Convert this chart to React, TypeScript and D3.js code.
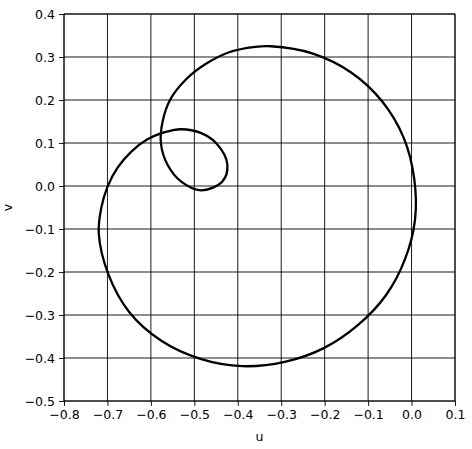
import React, { useEffect, useRef } from 'react';
import * as d3 from 'd3';

// curve: starts at the self-crossing, runs round the
// small loop, then up and clockwise round the big loop back to the crossing
const uValues = [
  -0.576, -0.553, -0.53, -0.487, -0.449, -0.424, -0.436, -0.485, -0.53, -0.562,
  -0.577, -0.573, -0.556, -0.52, -0.475, -0.42, -0.36, -0.324, -0.227, -0.139,
  -0.067, -0.018, 0.006, 0.008, -0.015, -0.059, -0.123, -0.202, -0.292, -0.389,
  -0.486, -0.576, -0.65, -0.698, -0.72, -0.714, -0.7, -0.677, -0.645, -0.609,
];
const vValues = [
  0.123, 0.129, 0.132, 0.124, 0.099, 0.05, 0.01, -0.01, 0.01, 0.05,
  0.1, 0.15, 0.2, 0.247, 0.283, 0.311, 0.3235, 0.325, 0.308, 0.264,
  0.196, 0.112, 0.018, -0.078, -0.17, -0.254, -0.323, -0.377, -0.409, -0.419,
  -0.402, -0.36, -0.293, -0.205, -0.11, -0.05, -0.002, 0.042, 0.08, 0.108,
];

const xTicks = [-0.8, -0.7, -0.6, -0.5, -0.4, -0.3, -0.2, -0.1, 0.0, 0.1];
const yTicks = [-0.5, -0.4, -0.3, -0.2, -0.1, 0.0, 0.1, 0.2, 0.3, 0.4];

const App = () => {
  const svgRef = useRef<SVGSVGElement | null>(null);

  useEffect(() => {
    if (!svgRef.current) return;
    const svg = d3.select(svgRef.current);
    svg.selectAll('*').remove();

    const width = 472;
    const height = 449;
    const margin = { top: 14, right: 17, bottom: 48, left: 64 };

    const x = d3.scaleLinear()
      .domain([-0.8, 0.1])
      .range([margin.left, width - margin.right]);
    const y = d3.scaleLinear()
      .domain([-0.5, 0.4])
      .range([height - margin.bottom, margin.top]);

    svg.append('rect')
      .attr('width', width)
      .attr('height', height)
      .attr('fill', '#fff');

    // grid
    const grid = svg.append('g').attr('stroke', '#000').attr('stroke-width', 0.9);
    grid.selectAll('line.gx')
      .data(xTicks)
      .enter()
      .append('line')
      .attr('x1', d => x(d))
      .attr('x2', d => x(d))
      .attr('y1', y(-0.5))
      .attr('y2', y(0.4));
    grid.selectAll('line.gy')
      .data(yTicks)
      .enter()
      .append('line')
      .attr('y1', d => y(d))
      .attr('y2', d => y(d))
      .attr('x1', x(-0.8))
      .attr('x2', x(0.1));

    const fmt = d3.format('.1f');
    const font = 'DejaVu Sans, sans-serif';
    const fontSize = '12.5px';

    const xAxis = svg.append('g')
      .attr('transform', `translate(0,${y(-0.5)})`)
      .call(d3.axisBottom(x).tickValues(xTicks).tickFormat(d => fmt(d as number)).tickSize(5).tickPadding(4));
    const yAxis = svg.append('g')
      .attr('transform', `translate(${x(-0.8)},0)`)
      .call(d3.axisLeft(y).tickValues(yTicks).tickFormat(d => fmt(d as number)).tickSize(5).tickPadding(4));

    [xAxis, yAxis].forEach(a => {
      a.select('.domain').remove();
      a.selectAll('line').attr('stroke', '#000').attr('stroke-width', 0.9);
      a.selectAll('text')
        .attr('fill', '#000')
        .style('font-family', font)
        .style('font-size', fontSize);
    });

    // frame
    svg.append('rect')
      .attr('x', x(-0.8))
      .attr('y', y(0.4))
      .attr('width', x(0.1) - x(-0.8))
      .attr('height', y(-0.5) - y(0.4))
      .attr('fill', 'none')
      .attr('stroke', '#000')
      .attr('stroke-width', 0.9);

    const points = uValues.map((u, i) => [u, vValues[i]] as [number, number]);
    const line = d3.line<[number, number]>()
      .x(d => x(d[0]))
      .y(d => y(d[1]))
      .curve(d3.curveCatmullRomClosed.alpha(0.5));

    svg.append('path')
      .datum(points)
      .attr('fill', 'none')
      .attr('stroke', '#000')
      .attr('stroke-width', 2.3)
      .attr('d', line);

    // axis labels
    svg.append('text')
      .attr('x', (x(-0.8) + x(0.1)) / 2)
      .attr('y', 441)
      .attr('text-anchor', 'middle')
      .style('font-family', font)
      .style('font-size', fontSize)
      .text('u');

    svg.append('text')
      .attr('transform', `translate(12,${(y(-0.5) + y(0.4)) / 2}) rotate(-90)`)
      .attr('text-anchor', 'middle')
      .style('font-family', font)
      .style('font-size', fontSize)
      .text('v');
  }, []);

  return (
    <div style={{ position: 'absolute', left: 0, top: 0 }}>
      <svg ref={svgRef} width={472} height={449} style={{ display: 'block' }}></svg>
    </div>
  );
};

export default App;
